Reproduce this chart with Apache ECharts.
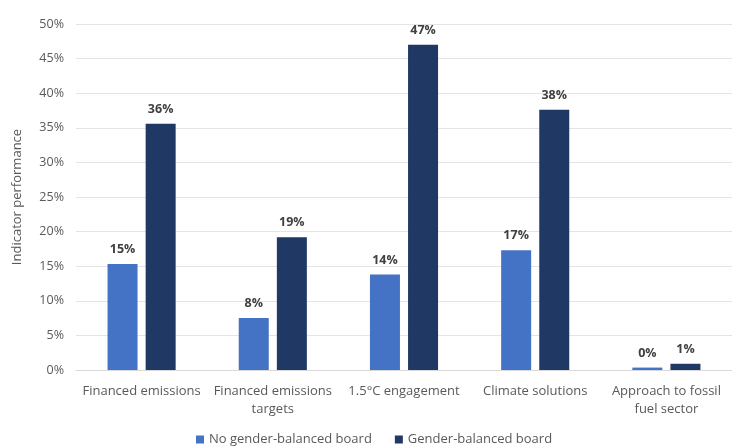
<!DOCTYPE html>
<html><head><meta charset="utf-8">
<script src="https://cdn.jsdelivr.net/npm/echarts@6/dist/echarts.min.js"></script>
<style>html,body{margin:0;padding:0;background:#fff}#c{width:732px;height:446px}</style>
</head><body><div id="c"></div>
<script>
const categories = ['Financed emissions', 'Financed emissions\ntargets', '1.5°C engagement', 'Climate solutions', 'Approach to fossil\nfuel sector'];
const noBalanced = [15.3, 7.5, 13.8, 17.3, 0.35];
const balanced = [35.6, 19.2, 47.0, 37.6, 0.9];
const yTicks = [0, 5, 10, 15, 20, 25, 30, 35, 40, 45, 50];
const seriesNames = ['No gender-balanced board', 'Gender-balanced board'];

const font = 'Open Sans';
const chart = echarts.init(document.getElementById('c'));
const lbl = {show: true, position: 'top', distance: 8, fontFamily: font, fontSize: 12.5, fontWeight: 'bold', color: '#404040',
  formatter: p => Math.round(p.value) + '%'};
chart.setOption({
  animation: false,
  textStyle: {fontFamily: font},
  grid: {left: 76, right: 0, top: 24, bottom: 76, containLabel: false},
  legend: {bottom: -5, left: 191, itemWidth: 8, itemHeight: 8, itemGap: 23, icon: 'rect',
    textStyle: {fontFamily: font, fontSize: 13, color: '#595959'}, data: seriesNames},
  xAxis: {type: 'category', data: categories,
    axisLine: {lineStyle: {color: '#d9d9d9'}}, axisTick: {show: false},
    axisLabel: {fontFamily: font, fontSize: 13, color: '#595959', margin: 12, lineHeight: 18, interval: 0}},
  yAxis: {type: 'value', min: yTicks[0], max: yTicks[yTicks.length - 1], interval: 5,
    name: 'Indicator performance', nameLocation: 'middle', nameGap: 52, nameRotate: 90,
    nameTextStyle: {fontFamily: font, fontSize: 13, color: '#595959'},
    axisLine: {show: false}, axisTick: {show: false},
    axisLabel: {fontFamily: font, fontSize: 12.5, color: '#595959', formatter: v => v + '%', margin: 12},
    splitLine: {lineStyle: {color: '#e4e4e4'}}},
  series: [
    {name: seriesNames[0], type: 'bar', data: noBalanced, barWidth: 30, barGap: '27%', itemStyle: {color: '#4472C4'}, label: lbl},
    {name: seriesNames[1], type: 'bar', data: balanced, barWidth: 30, itemStyle: {color: '#203864'}, label: lbl}
  ]
});
</script></body></html>
